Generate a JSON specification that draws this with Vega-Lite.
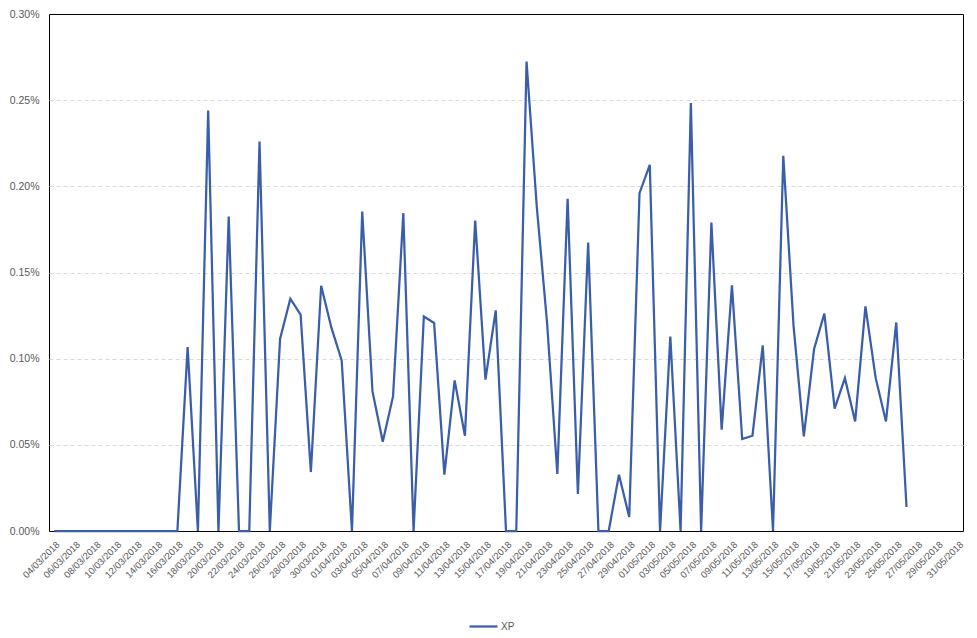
{
  "$schema": "https://vega.github.io/schema/vega-lite/v6.json",
  "width": 914,
  "height": 517,
  "autosize": {"type": "none"},
  "padding": {"left": 49, "top": 14, "right": 14, "bottom": 107},
  "background": "white",
  "config": {
    "view": {"stroke": "black", "strokeWidth": 1},
    "font": "Liberation Sans"
  },
  "data": {
    "values": [
      {"d": "04/03/2018", "s": "XP", "v": 0},
      {"d": "05/03/2018", "s": "XP", "v": 0},
      {"d": "06/03/2018", "s": "XP", "v": 0},
      {"d": "07/03/2018", "s": "XP", "v": 0},
      {"d": "08/03/2018", "s": "XP", "v": 0},
      {"d": "09/03/2018", "s": "XP", "v": 0},
      {"d": "10/03/2018", "s": "XP", "v": 0},
      {"d": "11/03/2018", "s": "XP", "v": 0},
      {"d": "12/03/2018", "s": "XP", "v": 0},
      {"d": "13/03/2018", "s": "XP", "v": 0},
      {"d": "14/03/2018", "s": "XP", "v": 0},
      {"d": "15/03/2018", "s": "XP", "v": 0},
      {"d": "16/03/2018", "s": "XP", "v": 0},
      {"d": "17/03/2018", "s": "XP", "v": 0.001067},
      {"d": "18/03/2018", "s": "XP", "v": 0},
      {"d": "19/03/2018", "s": "XP", "v": 0.00244},
      {"d": "20/03/2018", "s": "XP", "v": 0},
      {"d": "21/03/2018", "s": "XP", "v": 0.001825},
      {"d": "22/03/2018", "s": "XP", "v": 0},
      {"d": "23/03/2018", "s": "XP", "v": 0},
      {"d": "24/03/2018", "s": "XP", "v": 0.00226},
      {"d": "25/03/2018", "s": "XP", "v": 0},
      {"d": "26/03/2018", "s": "XP", "v": 0.001114},
      {"d": "27/03/2018", "s": "XP", "v": 0.001348},
      {"d": "28/03/2018", "s": "XP", "v": 0.001255},
      {"d": "29/03/2018", "s": "XP", "v": 0.000342},
      {"d": "30/03/2018", "s": "XP", "v": 0.001423},
      {"d": "31/03/2018", "s": "XP", "v": 0.00118},
      {"d": "01/04/2018", "s": "XP", "v": 0.00099},
      {"d": "02/04/2018", "s": "XP", "v": 0},
      {"d": "03/04/2018", "s": "XP", "v": 0.001854},
      {"d": "04/04/2018", "s": "XP", "v": 0.00081},
      {"d": "05/04/2018", "s": "XP", "v": 0.000518},
      {"d": "06/04/2018", "s": "XP", "v": 0.000781},
      {"d": "07/04/2018", "s": "XP", "v": 0.001845},
      {"d": "08/04/2018", "s": "XP", "v": 0},
      {"d": "09/04/2018", "s": "XP", "v": 0.001245},
      {"d": "10/04/2018", "s": "XP", "v": 0.001207},
      {"d": "11/04/2018", "s": "XP", "v": 0.000327},
      {"d": "12/04/2018", "s": "XP", "v": 0.000874},
      {"d": "13/04/2018", "s": "XP", "v": 0.000553},
      {"d": "14/04/2018", "s": "XP", "v": 0.001802},
      {"d": "15/04/2018", "s": "XP", "v": 0.000878},
      {"d": "16/04/2018", "s": "XP", "v": 0.00128},
      {"d": "17/04/2018", "s": "XP", "v": 0},
      {"d": "18/04/2018", "s": "XP", "v": 0},
      {"d": "19/04/2018", "s": "XP", "v": 0.002724},
      {"d": "20/04/2018", "s": "XP", "v": 0.00188},
      {"d": "21/04/2018", "s": "XP", "v": 0.001207},
      {"d": "22/04/2018", "s": "XP", "v": 0.000331},
      {"d": "23/04/2018", "s": "XP", "v": 0.001928},
      {"d": "24/04/2018", "s": "XP", "v": 0.000215},
      {"d": "25/04/2018", "s": "XP", "v": 0.001674},
      {"d": "26/04/2018", "s": "XP", "v": 0},
      {"d": "27/04/2018", "s": "XP", "v": 0},
      {"d": "28/04/2018", "s": "XP", "v": 0.000327},
      {"d": "29/04/2018", "s": "XP", "v": 0.000081},
      {"d": "30/04/2018", "s": "XP", "v": 0.00196},
      {"d": "01/05/2018", "s": "XP", "v": 0.002125},
      {"d": "02/05/2018", "s": "XP", "v": 0},
      {"d": "03/05/2018", "s": "XP", "v": 0.001129},
      {"d": "04/05/2018", "s": "XP", "v": 0},
      {"d": "05/05/2018", "s": "XP", "v": 0.002483},
      {"d": "06/05/2018", "s": "XP", "v": 0},
      {"d": "07/05/2018", "s": "XP", "v": 0.00179},
      {"d": "08/05/2018", "s": "XP", "v": 0.000588},
      {"d": "09/05/2018", "s": "XP", "v": 0.001425},
      {"d": "10/05/2018", "s": "XP", "v": 0.000534},
      {"d": "11/05/2018", "s": "XP", "v": 0.000553},
      {"d": "12/05/2018", "s": "XP", "v": 0.001077},
      {"d": "13/05/2018", "s": "XP", "v": 0},
      {"d": "14/05/2018", "s": "XP", "v": 0.002177},
      {"d": "15/05/2018", "s": "XP", "v": 0.00119},
      {"d": "16/05/2018", "s": "XP", "v": 0.000549},
      {"d": "17/05/2018", "s": "XP", "v": 0.001056},
      {"d": "18/05/2018", "s": "XP", "v": 0.001261},
      {"d": "19/05/2018", "s": "XP", "v": 0.00071},
      {"d": "20/05/2018", "s": "XP", "v": 0.000887},
      {"d": "21/05/2018", "s": "XP", "v": 0.000636},
      {"d": "22/05/2018", "s": "XP", "v": 0.001303},
      {"d": "23/05/2018", "s": "XP", "v": 0.000887},
      {"d": "24/05/2018", "s": "XP", "v": 0.000636},
      {"d": "25/05/2018", "s": "XP", "v": 0.00121},
      {"d": "26/05/2018", "s": "XP", "v": 0.000139},
      {"d": "27/05/2018", "s": "XP", "v": null},
      {"d": "28/05/2018", "s": "XP", "v": null},
      {"d": "29/05/2018", "s": "XP", "v": null},
      {"d": "30/05/2018", "s": "XP", "v": null},
      {"d": "31/05/2018", "s": "XP", "v": null}
    ]
  },
  "mark": {"type": "line", "strokeWidth": 2.25, "invalid": "break-paths-show-domains"},
  "encoding": {
    "x": {
      "field": "d",
      "type": "ordinal",
      "sort": null,
      "scale": {"type": "point", "padding": 0.5},
      "axis": {
        "title": null,
        "domain": false,
        "ticks": false,
        "grid": false,
        "labelAngle": -45,
        "labelFontSize": 9.5,
        "labelColor": "#595959",
        "labelPadding": 8,
        "values": ["04/03/2018","06/03/2018","08/03/2018","10/03/2018","12/03/2018","14/03/2018","16/03/2018","18/03/2018","20/03/2018","22/03/2018","24/03/2018","26/03/2018","28/03/2018","30/03/2018","01/04/2018","03/04/2018","05/04/2018","07/04/2018","09/04/2018","11/04/2018","13/04/2018","15/04/2018","17/04/2018","19/04/2018","21/04/2018","23/04/2018","25/04/2018","27/04/2018","29/04/2018","01/05/2018","03/05/2018","05/05/2018","07/05/2018","09/05/2018","11/05/2018","13/05/2018","15/05/2018","17/05/2018","19/05/2018","21/05/2018","23/05/2018","25/05/2018","27/05/2018","29/05/2018","31/05/2018"]
      }
    },
    "y": {
      "field": "v",
      "type": "quantitative",
      "scale": {"domain": [0, 0.003], "nice": false},
      "axis": {
        "title": null,
        "format": ".2%",
        "values": [0, 0.0005, 0.001, 0.0015, 0.002, 0.0025, 0.003],
        "domain": false,
        "ticks": false,
        "labelFontSize": 10.5,
        "labelColor": "#595959",
        "labelPadding": 10,
        "gridColor": {"condition": {"test": "datum.value >= 0.003 || datum.value <= 0", "value": "transparent"}, "value": "#d9d9d9"},
        "gridDash": [4, 3],
        "gridWidth": 1
      }
    },
    "color": {
      "field": "s",
      "type": "nominal",
      "scale": {"range": ["#3a5ea9"]},
      "legend": {
        "title": null,
        "orient": "none",
        "legendX": 419,
        "legendY": 597,
        "symbolType": "stroke",
        "symbolSize": 784,
        "symbolStrokeWidth": 2.25,
        "labelOffset": 2,
        "labelFontSize": 10,
        "labelColor": "#595959"
      }
    }
  }
}
